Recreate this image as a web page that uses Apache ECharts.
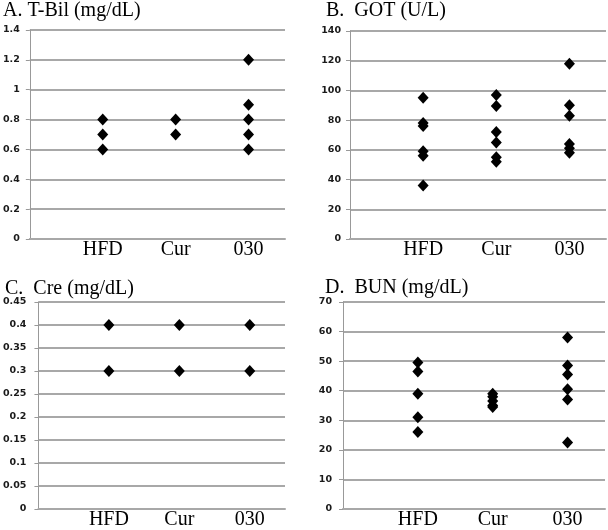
<!DOCTYPE html>
<html><head><meta charset="utf-8">
<script src="https://cdn.jsdelivr.net/npm/echarts@6/dist/echarts.min.js"></script>
<style>html,body{margin:0;padding:0;background:#fff}#c{width:608px;height:530px}</style>
</head><body><div id="c"></div>
<script>
const categories = ['HFD', 'Cur', '030'];

const tbilHFD = [0.8, 0.7, 0.6];
const tbilCur = [0.8, 0.7];
const tbil030 = [1.2, 0.9, 0.8, 0.7, 0.6];

const gotHFD = [95, 78, 76, 59, 56, 36];
const gotCur = [97, 89.5, 72, 65, 55, 52];
const got030 = [118, 90, 83, 64, 61, 58];

const creHFD = [0.4, 0.3];
const creCur = [0.4, 0.3];
const cre030 = [0.4, 0.3];

const bunHFD = [49.5, 46.5, 39, 31, 26];
const bunCur = [39, 38, 36.5, 35, 34.5];
const bun030 = [58, 48.5, 45.5, 40.5, 37, 22.5];

const yMaxA = 1.4, yStepA = 0.2;
const yMaxB = 140, yStepB = 20;
const yMaxC = 0.45, yStepC = 0.05;
const yMaxD = 70, yStepD = 10;

function pts(groups) {
  const out = [];
  groups.forEach((g, i) => g.forEach(v => out.push([i + 1, v])));
  return out;
}

const panels = [
  {data: pts([tbilHFD, tbilCur, tbil030]), max: yMaxA, step: yStepA,
   grid: {left: 27, top: 30, width: 258, height: 209}, margin: 10},
  {data: pts([gotHFD, gotCur, got030]), max: yMaxB, step: yStepB,
   grid: {left: 350, top: 31, width: 256, height: 208}, margin: 9},
  {data: pts([creHFD, creCur, cre030]), max: yMaxC, step: yStepC,
   grid: {left: 33, top: 302, width: 252, height: 208}, margin: 12},
  {data: pts([bunHFD, bunCur, bun030]), max: yMaxD, step: yStepD,
   grid: {left: 343, top: 302, width: 262, height: 208}, margin: 11}
];

const serif = 'Liberation Serif';
const titleStyle = {fontFamily: serif, fontSize: 20, color: '#000', fontWeight: 'normal', lineHeight: 20};

const option = {
  animation: false,
  backgroundColor: '#fff',
  title: [
    {text: 'A. T-Bil (mg/dL)', left: 3, top: 1, padding: 0, textStyle: titleStyle},
    {text: 'B.  GOT (U/L)', left: 326, top: 1, padding: 0, textStyle: titleStyle},
    {text: 'C.  Cre (mg/dL)', left: 5, top: 279, padding: 0, textStyle: titleStyle},
    {text: 'D.  BUN (mg/dL)', left: 325, top: 278, padding: 0, textStyle: titleStyle}
  ],
  grid: panels.map(p => Object.assign({containLabel: false, show: false}, p.grid)),
  xAxis: panels.map((p, i) => ({
    type: 'value', gridIndex: i, min: 0, max: 3.5, interval: 1,
    axisLine: {show: true, onZero: false, lineStyle: {color: '#a8a8a8', width: 2}},
    axisTick: {show: false},
    splitLine: {show: false},
    axisLabel: {
      show: true, margin: 1, showMaxLabel: false, showMinLabel: false,
      fontFamily: serif, fontSize: 20, color: '#000', lineHeight: 20,
      formatter: v => categories[Math.round(v) - 1] || ''
    }
  })),
  yAxis: panels.map((p, i) => ({
    type: 'value', gridIndex: i, min: 0, max: p.max, interval: p.step,
    axisLine: {show: true, lineStyle: {color: '#999999', width: 1}},
    axisTick: {show: true, length: 4, lineStyle: {color: '#999999'}},
    splitLine: {show: true, lineStyle: {color: '#a8a8a8', width: 2}},
    axisLabel: {margin: p.margin, fontFamily: 'DejaVu Sans', fontSize: 9.5, fontWeight: 'bold', color: '#1a1a1a'}
  })),
  series: panels.map((p, i) => ({
    type: 'scatter', xAxisIndex: i, yAxisIndex: i,
    symbol: 'diamond', symbolSize: [11, 12],
    itemStyle: {color: '#000', opacity: 1},
    z: 5,
    data: p.data
  }))
};

const chart = echarts.init(document.getElementById('c'), null, {renderer: 'canvas'});
chart.setOption(option);
</script>
</body></html>
